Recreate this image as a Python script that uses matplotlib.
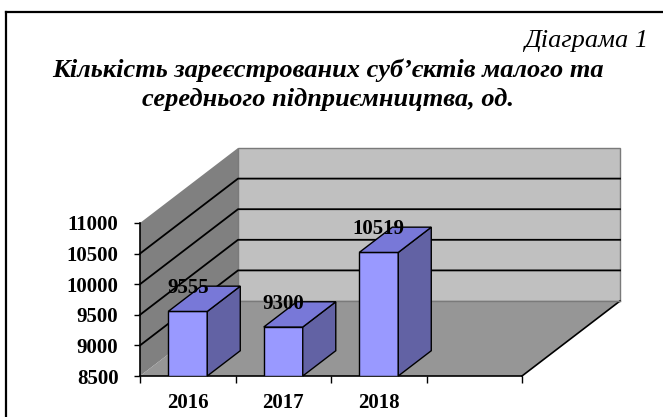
import matplotlib
matplotlib.use('Agg')
import matplotlib.pyplot as plt
from matplotlib.patches import Polygon
from matplotlib.lines import Line2D

# ---- data ----
years = ['2016', '2017', '2018']
values = [9555, 9300, 10519]
n_slots = 4
y_ticks = [8500, 9000, 9500, 10000, 10500, 11000]
ymin, ymax = 8500, 11000
caption = 'Діаграма 1'
title_lines = ['Кількість зареєстрованих суб’єктів малого та',
               'середнього підприємництва, од.']

FONT = 'Liberation Serif'
W, H, DPI = 663, 417, 100
fig = plt.figure(figsize=(W / DPI, H / DPI), dpi=DPI)
fig.patch.set_facecolor('white')

# front plane of the 3D box in pixels
ax_l, ax_r, ax_t, ax_b = 140, 522, 223, 376
ax = fig.add_axes([ax_l / W, 1 - ax_b / H, (ax_r - ax_l) / W, (ax_b - ax_t) / H])
ax.set_xlim(0, n_slots)
ax.set_ylim(ymin, ymax)
ax.patch.set_visible(False)

px_per_x = (ax_r - ax_l) / n_slots
px_per_y = (ax_b - ax_t) / (ymax - ymin)
DX = 98 / px_per_x      # depth offset in data units
DY = 75 / px_per_y

# walls and floor
side = Polygon([(0, ymin), (0, ymax), (DX, ymax + DY), (DX, ymin + DY)],
               closed=True, fc='#808080', ec='none', clip_on=False, zorder=1)
back = Polygon([(DX, ymin + DY), (DX, ymax + DY), (n_slots + DX, ymax + DY),
                (n_slots + DX, ymin + DY)],
               closed=True, fc='#C0C0C0', ec='#7a7a7a', lw=1.0, clip_on=False, zorder=1)
floor = Polygon([(0, ymin), (n_slots, ymin), (n_slots + DX, ymin + DY), (DX, ymin + DY)],
                closed=True, fc='#969696', ec='none', clip_on=False, zorder=1.1)
for p in (side, back, floor):
    ax.add_patch(p)
ax.plot([n_slots, n_slots + DX], [ymin, ymin + DY], color='black', lw=1.2,
        clip_on=False, zorder=1.2)
ax.plot([DX, n_slots + DX], [ymin + DY, ymin + DY], color='#7a7a7a', lw=1.0,
        clip_on=False, zorder=1.2)

# gridlines on side wall and back wall
for v in y_ticks[1:-1]:
    ax.plot([0, DX, n_slots + DX], [v, v + DY, v + DY], color='black', lw=1.3,
            clip_on=False, zorder=1.5)

# bars
centers = [i + 0.5 for i in range(len(values))]
bw = 39 / px_per_x
f = 0.337
bdx, bdy = f * DX, f * DY
front_c, top_c, side_c = '#9999FF', '#7878D8', '#6262A4'
ax.bar(centers, [v - ymin for v in values], bottom=ymin, width=bw,
       color=front_c, edgecolor='black', lw=1.0, zorder=5)
for c, v in zip(centers, values):
    x0, x1 = c - bw / 2, c + bw / 2
    top = Polygon([(x0, v), (x1, v), (x1 + bdx, v + bdy), (x0 + bdx, v + bdy)],
                  closed=True, fc=top_c, ec='black', lw=1.0, clip_on=False, zorder=5)
    sd = Polygon([(x1, ymin), (x1, v), (x1 + bdx, v + bdy), (x1 + bdx, ymin + bdy)],
                 closed=True, fc=side_c, ec='black', lw=1.0, clip_on=False, zorder=5)
    ax.add_patch(sd)
    ax.add_patch(top)
    ax.annotate(str(v), (c, v), xytext=(0, 23 * 0.72), textcoords='offset points',
                ha='center', va='center', family=FONT, fontweight='bold',
                fontsize=15, zorder=6, annotation_clip=False)

# axes styling
for s in ('top', 'right'):
    ax.spines[s].set_visible(False)
for s in ('left', 'bottom'):
    ax.spines[s].set_color('black')
    ax.spines[s].set_linewidth(1.2)
    ax.spines[s].set_zorder(3)

ax.set_yticks(y_ticks)
ax.set_yticklabels([str(t) for t in y_ticks], family=FONT, fontweight='bold', fontsize=15)
ax.tick_params(axis='y', direction='out', length=4.5, width=1.0, pad=11)

ax.set_xticks(range(n_slots + 1))
ax.set_xticklabels([])
ax.tick_params(axis='x', which='major', direction='out', length=5, width=1.0)
ax.set_xticks(centers, minor=True)
ax.set_xticklabels(years, minor=True, family=FONT, fontweight='bold', fontsize=15)
ax.tick_params(axis='x', which='minor', length=0, pad=12)

# texts
fig.text(648 / W, 1 - 47 / H, caption, ha='right', va='baseline', family=FONT,
         fontstyle='italic', fontsize=19)
fig.text(328 / W, 1 - 77 / H, title_lines[0], ha='center', va='baseline', family=FONT,
         fontstyle='italic', fontweight='bold', fontsize=19)
fig.text(328 / W, 1 - 106 / H, title_lines[1], ha='center', va='baseline', family=FONT,
         fontstyle='italic', fontweight='bold', fontsize=19)

# frame
fig.add_artist(Line2D([6 / W, 1], [1 - 12 / H, 1 - 12 / H], transform=fig.transFigure,
                      color='black', lw=1.6))
fig.add_artist(Line2D([6 / W, 6 / W], [0, 1 - 12 / H], transform=fig.transFigure,
                      color='black', lw=1.6))

fig.savefig('out.png', dpi=DPI, facecolor='white')
